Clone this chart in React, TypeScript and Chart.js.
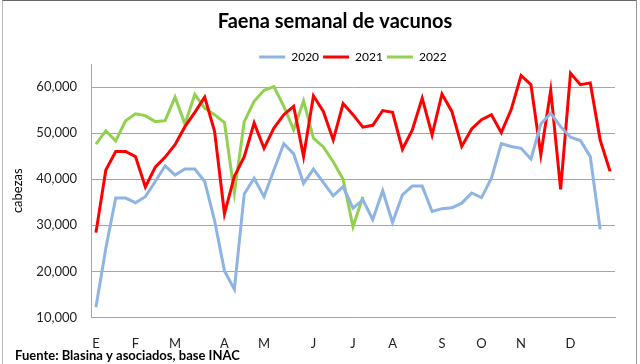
import React, { useEffect, useRef } from 'react';
import { Chart, registerables } from 'chart.js';

Chart.register(...registerables);

// Week positions (0-based) where each month letter is shown on the x axis
const monthLetters = ['E', 'F', 'M', 'A', 'M', 'J', 'J', 'A', 'S', 'O', 'N', 'D'];
const monthWeekIndex = [0, 4, 8, 13, 17, 22, 26, 30, 35, 39, 43, 48];
const weekCount = 53;

const seriesNames = ['2020', '2021', '2022'];

const s2020 = [
  12200, 25000, 35900, 35900, 34900, 36200, 39500, 42900, 40900, 42200,
  42200, 39500, 31000, 20100, 16100, 36800, 40200, 36200, 42000, 47700,
  45500, 39100, 42200, 39300, 36400, 38400, 33700, 35500, 31200, 37500,
  30600, 36600, 38500, 38500, 33000, 33600, 33800, 34800, 37000, 36000,
  40200, 47700, 47100, 46700, 44400, 52000, 54300, 51400, 49100, 48400,
  44900, 29100,
];

const s2021 = [
  28400, 42000, 46000, 46000, 44900, 38300, 42600, 44800, 47500, 51400,
  54500, 57800, 50400, 32500, 40600, 44900, 52200, 46700, 51100, 54000,
  55800, 44900, 58100, 54700, 48500, 56400, 54000, 51300, 51700, 54900,
  54500, 46500, 50700, 57600, 49600, 58500, 54700, 47100, 50900, 52900,
  54000, 50100, 55100, 62500, 60500, 45300, 59300, 37800, 63000, 60500,
  60900, 48500, 41700,
];

const s2022 = [
  47600, 50500, 48300, 52700, 54200, 53800, 52500, 52700, 57800, 52000,
  58400, 55400, 54000, 52300, 37000, 52500, 56900, 59300, 60100, 55800,
  50700, 57000, 48900, 47000, 43800, 40000, 29700, 36200,
];

const yMin = 10000;
const yMax = 65000;
const yTicks = [10000, 20000, 30000, 40000, 50000, 60000];

const labels: string[] = Array.from({ length: weekCount }, () => '');
monthWeekIndex.forEach((w, i) => {
  labels[w] = monthLetters[i];
});

const BLUE = 'rgb(141,180,226)';
const RED = 'rgb(255,0,0)';
const GREEN = 'rgb(146,208,80)';
const GRID = '#a6a6a6';
const FONT = 'Lato';

// Excel-style compact legend: trims the fixed extra space below the legend row
const compactLegend = {
  id: 'compactLegend',
  afterInit(chart: any) {
    const lg = chart.legend;
    if (!lg) return;
    const orig = lg.fit.bind(lg);
    lg.fit = function () {
      orig();
      this.height -= 9;
    };
  },
};

export default function App() {
  const ref = useRef<HTMLCanvasElement>(null);

  useEffect(() => {
    const canvas = ref.current;
    if (!canvas) return;
    const colors = [BLUE, RED, GREEN];
    const values = [s2020, s2021, s2022];
    const chart = new Chart(canvas, {
      type: 'line',
      data: {
        labels,
        datasets: seriesNames.map((name, i) => ({
          label: name,
          data: values[i],
          borderColor: colors[i],
          backgroundColor: colors[i],
          borderWidth: 3,
          pointRadius: 0,
          pointHoverRadius: 0,
          tension: 0,
          fill: false,
        })),
      },
      plugins: [compactLegend],
      options: {
        responsive: false,
        animation: false,
        devicePixelRatio: 1,
        locale: 'en-US',
        layout: { padding: { left: 15, right: 0, top: 0, bottom: 0 } },
        plugins: {
          title: {
            display: true,
            text: 'Faena semanal de vacunos',
            color: '#000',
            font: { family: FONT, size: 20, weight: 'bold' },
            padding: { top: 10, bottom: 13 },
          },
          subtitle: {
            display: true,
            position: 'bottom',
            align: 'start',
            text: 'Fuente: Blasina y asociados, base INAC',
            color: '#000',
            font: { family: FONT, size: 13, weight: 'bold' },
            padding: { top: -3, bottom: 0 },
          },
          legend: {
            position: 'top',
            fullSize: false,
            labels: {
              usePointStyle: true,
              pointStyle: 'line',
              pointStyleWidth: 26,
              boxHeight: 3,
              color: '#000',
              font: { family: FONT, size: 12 },
              padding: 4,
            },
          },
          tooltip: { enabled: false },
        },
        scales: {
          x: {
            offset: true,
            grid: { display: false, drawTicks: false },
            border: { display: true, color: GRID },
            ticks: {
              autoSkip: false,
              maxRotation: 0,
              minRotation: 0,
              padding: 19,
              color: '#222',
              font: { family: FONT, size: 13 },
            },
            afterFit: (s: any) => {
              s.height = 34;
            },
          },
          y: {
            min: yMin,
            max: yMax,
            bounds: 'data',
            afterBuildTicks: (s: any) => {
              s.ticks = yTicks.map((v) => ({ value: v }));
            },
            ticks: {
              padding: 14,
              color: '#222',
              font: { family: FONT, size: 13 },
            },
            grid: { color: GRID, drawTicks: false },
            border: { color: GRID },
            title: {
              display: true,
              text: 'cabezas',
              color: '#000',
              font: { family: FONT, size: 13 },
              padding: { top: -5, bottom: 0 },
            },
            afterFit: (s: any) => {
              s.width = 76;
            },
          },
          yR: {
            position: 'right',
            display: true,
            grid: { display: false },
            ticks: { display: false },
            border: { display: false },
            afterFit: (s: any) => {
              s.width = 40;
            },
          },
        },
      },
    } as any);
    return () => chart.destroy();
  }, []);

  return (
    <div
      style={{
        position: 'fixed',
        left: 0,
        top: 0,
        width: 640,
        height: 364,
        overflow: 'hidden',
        background: '#fff',
      }}
    >
      <canvas ref={ref} width={655} height={364} style={{ display: 'block' }} />
      <div
        style={{
          position: 'absolute',
          left: 2,
          top: 0,
          width: 635,
          height: 380,
          borderTop: '1px solid #666',
          borderLeft: '1px solid #bbb',
          borderRight: '1px solid #999',
          boxSizing: 'border-box',
          pointerEvents: 'none',
        }}
      />
    </div>
  );
}
